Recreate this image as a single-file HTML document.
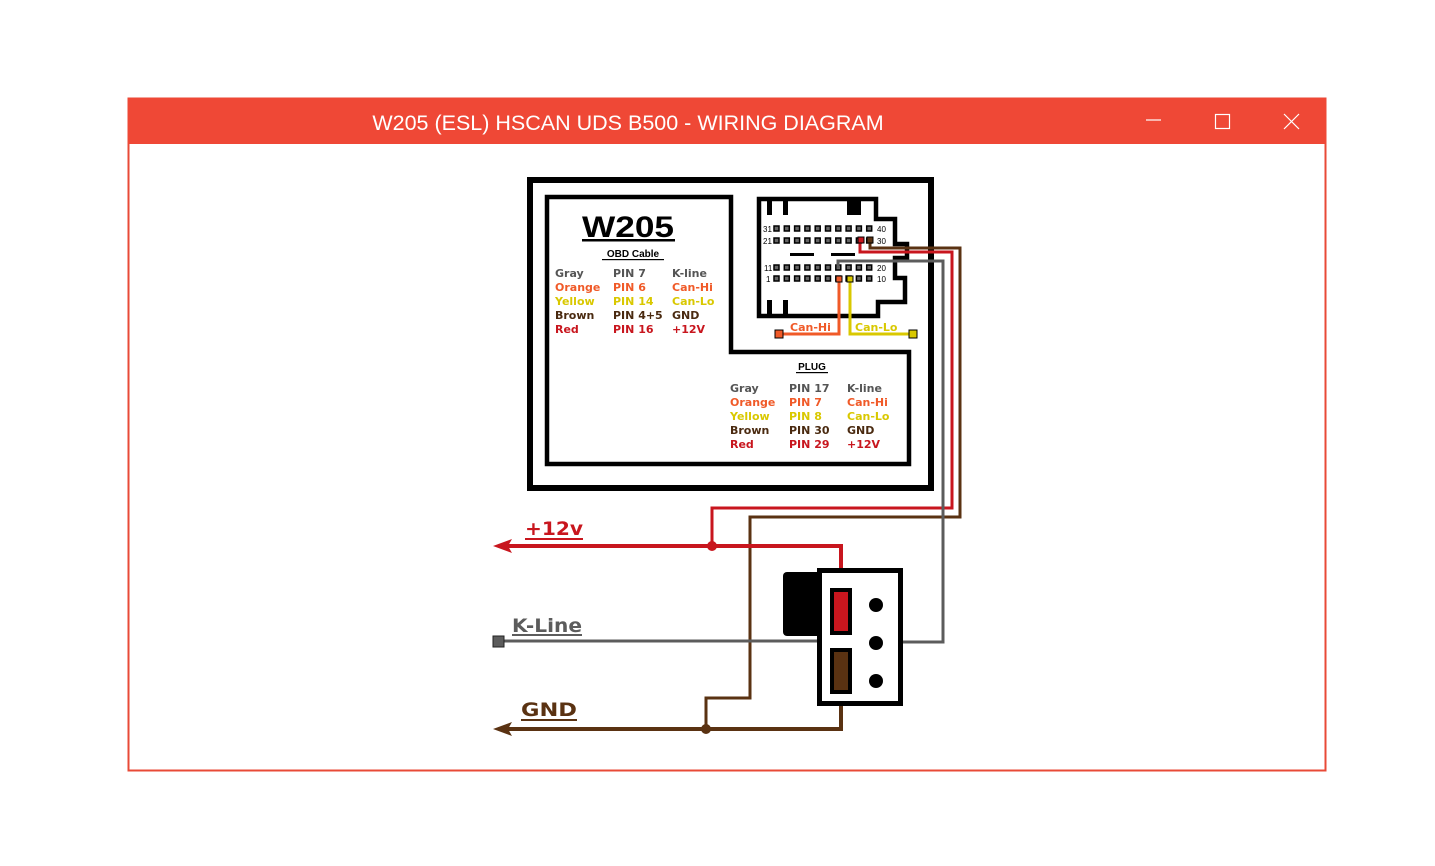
<!DOCTYPE html>
<html><head><meta charset="utf-8"><style>
html,body{margin:0;padding:0;background:#fff;width:1435px;height:866px;overflow:hidden}
svg{display:block}
text{font-family:"Liberation Sans",Arial,sans-serif}
.b{font-family:"DejaVu Sans",sans-serif;font-weight:bold;font-size:11px}
.L{font-family:"DejaVu Sans",sans-serif;font-weight:bold;font-size:19px}
</style></head><body>
<svg width="1435" height="866" viewBox="0 0 1435 866" xmlns="http://www.w3.org/2000/svg">
<rect x="128.5" y="98.5" width="1197" height="672" fill="#fff" stroke="#e84a37" stroke-width="2"/>
<rect x="128" y="98" width="1198" height="46" fill="#ef4836"/>
<text x="628" y="130" font-size="21.5" fill="#fff" text-anchor="middle">W205 (ESL) HSCAN UDS B500 - WIRING DIAGRAM</text>
<line x1="1146" y1="120" x2="1161" y2="120" stroke="#fff" stroke-width="1.2"/>
<rect x="1215.5" y="114.5" width="14" height="14" fill="none" stroke="#fff" stroke-width="1.2"/>
<path d="M1284 114L1299 129M1299 114L1284 129" stroke="#fff" stroke-width="1.2"/>

<rect x="530" y="180" width="401" height="308" fill="#fff" stroke="#000" stroke-width="6"/>
<path d="M547 197H731V352H909V464H547Z" fill="#fff" stroke="#000" stroke-width="4.5"/>

<text x="628" y="237" font-size="30" font-family="DejaVu Sans" font-weight="bold" text-anchor="middle" fill="#000" textLength="92" lengthAdjust="spacingAndGlyphs">W205</text>
<rect x="582" y="239" width="93" height="2.5" fill="#000"/>
<text x="633" y="257" font-size="10" font-family="DejaVu Sans" font-weight="bold" text-anchor="middle">OBD Cable</text>
<rect x="602" y="259" width="62" height="1.2" fill="#000"/>
<text x="555" y="277" class="b" fill="#555">Gray</text><text x="613" y="277" class="b" fill="#555">PIN 7</text><text x="672" y="277" class="b" fill="#555">K-line</text>
<text x="555" y="291" class="b" fill="#f05a28">Orange</text><text x="613" y="291" class="b" fill="#f05a28">PIN 6</text><text x="672" y="291" class="b" fill="#f05a28">Can-Hi</text>
<text x="555" y="305" class="b" fill="#d9c800">Yellow</text><text x="613" y="305" class="b" fill="#d9c800">PIN 14</text><text x="672" y="305" class="b" fill="#d9c800">Can-Lo</text>
<text x="555" y="319" class="b" fill="#4a2a10">Brown</text><text x="613" y="319" class="b" fill="#4a2a10">PIN 4+5</text><text x="672" y="319" class="b" fill="#4a2a10">GND</text>
<text x="555" y="333" class="b" fill="#c8161e">Red</text><text x="613" y="333" class="b" fill="#c8161e">PIN 16</text><text x="672" y="333" class="b" fill="#c8161e">+12V</text>
<text x="812" y="370" font-size="10" font-family="DejaVu Sans" font-weight="bold" text-anchor="middle">PLUG</text>
<rect x="796" y="372" width="32" height="1.2" fill="#000"/>
<text x="730" y="392" class="b" fill="#555">Gray</text><text x="789" y="392" class="b" fill="#555">PIN 17</text><text x="847" y="392" class="b" fill="#555">K-line</text>
<text x="730" y="406" class="b" fill="#f05a28">Orange</text><text x="789" y="406" class="b" fill="#f05a28">PIN 7</text><text x="847" y="406" class="b" fill="#f05a28">Can-Hi</text>
<text x="730" y="420" class="b" fill="#d9c800">Yellow</text><text x="789" y="420" class="b" fill="#d9c800">PIN 8</text><text x="847" y="420" class="b" fill="#d9c800">Can-Lo</text>
<text x="730" y="434" class="b" fill="#4a2a10">Brown</text><text x="789" y="434" class="b" fill="#4a2a10">PIN 30</text><text x="847" y="434" class="b" fill="#4a2a10">GND</text>
<text x="730" y="448" class="b" fill="#c8161e">Red</text><text x="789" y="448" class="b" fill="#c8161e">PIN 29</text><text x="847" y="448" class="b" fill="#c8161e">+12V</text>

<path d="M759 199H876V219H895V244H907V258H895V278H905V302H878V316H759Z" fill="#fff" stroke="#000" stroke-width="4.5"/>
<rect x="767" y="199" width="5" height="16" fill="#000"/><rect x="783" y="199" width="5" height="16" fill="#000"/>
<rect x="767" y="300" width="5" height="16" fill="#000"/><rect x="783" y="300" width="5" height="16" fill="#000"/>
<rect x="847" y="199" width="14" height="16" fill="#000"/>
<rect x="790" y="253" width="24" height="3" fill="#000"/><rect x="831" y="253" width="24" height="3" fill="#000"/>
<g font-size="8" font-family="Liberation Serif" fill="#000">
<text x="763" y="232">31</text><text x="763" y="244">21</text><text x="764" y="271">11</text><text x="766" y="282">1</text>
<text x="877" y="232">40</text><text x="877" y="244">30</text><text x="877" y="271">20</text><text x="877" y="282">10</text>
</g>
<g fill="#666" stroke="#000" stroke-width="1.5">
<g id="row"><rect x="774" y="226" width="5" height="5"/><rect x="784.3" y="226" width="5" height="5"/><rect x="794.6" y="226" width="5" height="5"/><rect x="804.9" y="226" width="5" height="5"/><rect x="815.2" y="226" width="5" height="5"/><rect x="825.5" y="226" width="5" height="5"/><rect x="835.8" y="226" width="5" height="5"/><rect x="846.1" y="226" width="5" height="5"/><rect x="856.4" y="226" width="5" height="5"/><rect x="866.7" y="226" width="5" height="5"/></g>
<use href="#row" y="12"/><use href="#row" y="39"/><use href="#row" y="50"/>
</g>

<g fill="none" stroke-width="3" stroke-linejoin="miter">
<path d="M839 278V334H779" stroke="#f05a28"/>
<path d="M850 278V334H913" stroke="#d9c800"/>
<path d="M860 240V252H952V508H712V546" stroke="#c8161e"/>
<path d="M870 240V248H960V517H750V698H706V729" stroke="#5a3212"/>
<path d="M838 268V261H943V642H876" stroke="#5c5c5c"/>
<path d="M498 641H876" stroke="#5c5c5c"/>
<path d="M505 546H841V597" stroke="#c8161e" stroke-width="4"/>
<path d="M505 729H841V690" stroke="#5a3212" stroke-width="4"/>
</g>
<rect x="858" y="237" width="6" height="6" fill="#c8161e" stroke="#000"/>
<rect x="867" y="237" width="6" height="6" fill="#5a3212" stroke="#000"/>
<rect x="836" y="276" width="6" height="6" fill="#f05a28" stroke="#000"/>
<rect x="847" y="276" width="6" height="6" fill="#d9c800" stroke="#000"/>
<rect x="775" y="330" width="8" height="8" fill="#f05a28" stroke="#000"/>
<rect x="909" y="330" width="8" height="8" fill="#d9c800" stroke="#000"/>
<text x="790" y="331" class="b" fill="#f05a28">Can-Hi</text>
<text x="855" y="331" class="b" fill="#d9c800">Can-Lo</text>

<circle cx="712" cy="546" r="5" fill="#c8161e"/>
<circle cx="706" cy="729" r="5" fill="#5a3212"/>
<path d="M493 546L512 539L508 546L512 553Z" fill="#c8161e"/>
<path d="M493 729L512 722L508 729L512 736Z" fill="#5a3212"/>
<rect x="493" y="636" width="11" height="11" fill="#5c5c5c" stroke="#222"/>

<text x="525" y="535" class="L" fill="#c8161e" textLength="58" lengthAdjust="spacingAndGlyphs">+12v</text>
<rect x="525" y="538" width="58" height="2" fill="#c8161e"/>
<text x="512" y="632" class="L" fill="#5c5c5c" textLength="70" lengthAdjust="spacingAndGlyphs">K-Line</text>
<rect x="512" y="634" width="70" height="2" fill="#5c5c5c"/>
<text x="521" y="716" class="L" fill="#5a3212" textLength="56" lengthAdjust="spacingAndGlyphs">GND</text>
<rect x="521" y="719" width="56" height="2" fill="#5a3212"/>

<rect x="783" y="572" width="40" height="64" rx="4" fill="#000"/>
<rect x="819.5" y="570.5" width="81" height="133" fill="#fff" stroke="#000" stroke-width="5"/>
<rect x="832" y="590" width="18" height="43" fill="#c8161e" stroke="#000" stroke-width="4"/>
<rect x="832" y="650" width="18" height="42" fill="#5a3212" stroke="#000" stroke-width="4"/>
<circle cx="876" cy="605" r="7" fill="#000"/>
<circle cx="876" cy="643" r="7" fill="#000"/>
<circle cx="876" cy="681" r="7" fill="#000"/>
</svg>
</body></html>
